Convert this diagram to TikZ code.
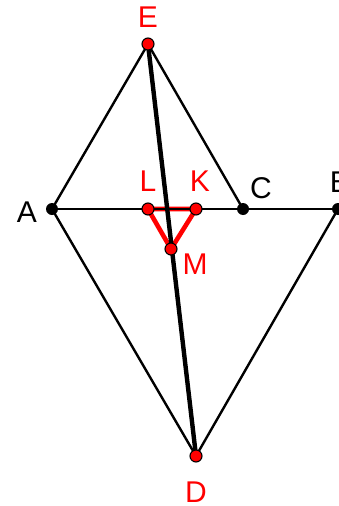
\documentclass[tikz,border=0pt]{standalone}
\usepackage{fontspec}
\setmainfont{Liberation Sans}
\begin{document}
\begin{tikzpicture}[x=1pt, y=-1pt, edge/.style={line width=2.4pt}, heavy/.style={line width=4.4pt}, tri/.style={red, line width=4.6pt, line join=round}, ptred/.style={circle, fill=red, draw=black, line width=1.1pt, inner sep=0pt, minimum size=12pt}, ptblack/.style={circle, fill=black, inner sep=0pt, minimum size=12pt}, lbl/.style={font=\fontsize{30}{30}\selectfont, inner sep=1pt}]
\useasboundingbox (0,0) rectangle (338,506);
\coordinate (A) at (52,209);
\coordinate (B) at (338,209);
\coordinate (C) at (243,209);
\coordinate (E) at (148,44);
\coordinate (D) at (196,456);
\coordinate (L) at (148,209);
\coordinate (K) at (196,209);
\coordinate (M) at (171,249);
\draw[tri] (L) -- (K) -- (M) -- cycle;
\draw[edge] (A) -- (E) -- (C);
\draw[edge] (A) -- (B);
\draw[edge] (A) -- (D) -- (B);
\draw[heavy] (E) -- (D);
\node[ptblack] (a) at (A) {};
\node[ptblack] (b) at (B) {};
\node[ptblack] (c) at (C) {};
\node[ptred] (e) at (E) {};
\node[ptred] (d) at (D) {};
\node[ptred] (l) at (L) {};
\node[ptred] (k) at (K) {};
\node[ptred] (m) at (M) {};
\node[lbl] (la) at (27,212) {A};
\node[lbl] (lb) at (340,182) {B};
\node[lbl] (lc) at (261,188) {C};
\node[lbl, red] (le) at (148,17) {E};
\node[lbl, red] (ld) at (196,492) {D};
\node[lbl, red] (ll) at (148,181) {L};
\node[lbl, red] (lk) at (200,181) {K};
\node[lbl, red] (lm) at (195,264) {M};
\end{tikzpicture}
\end{document}
